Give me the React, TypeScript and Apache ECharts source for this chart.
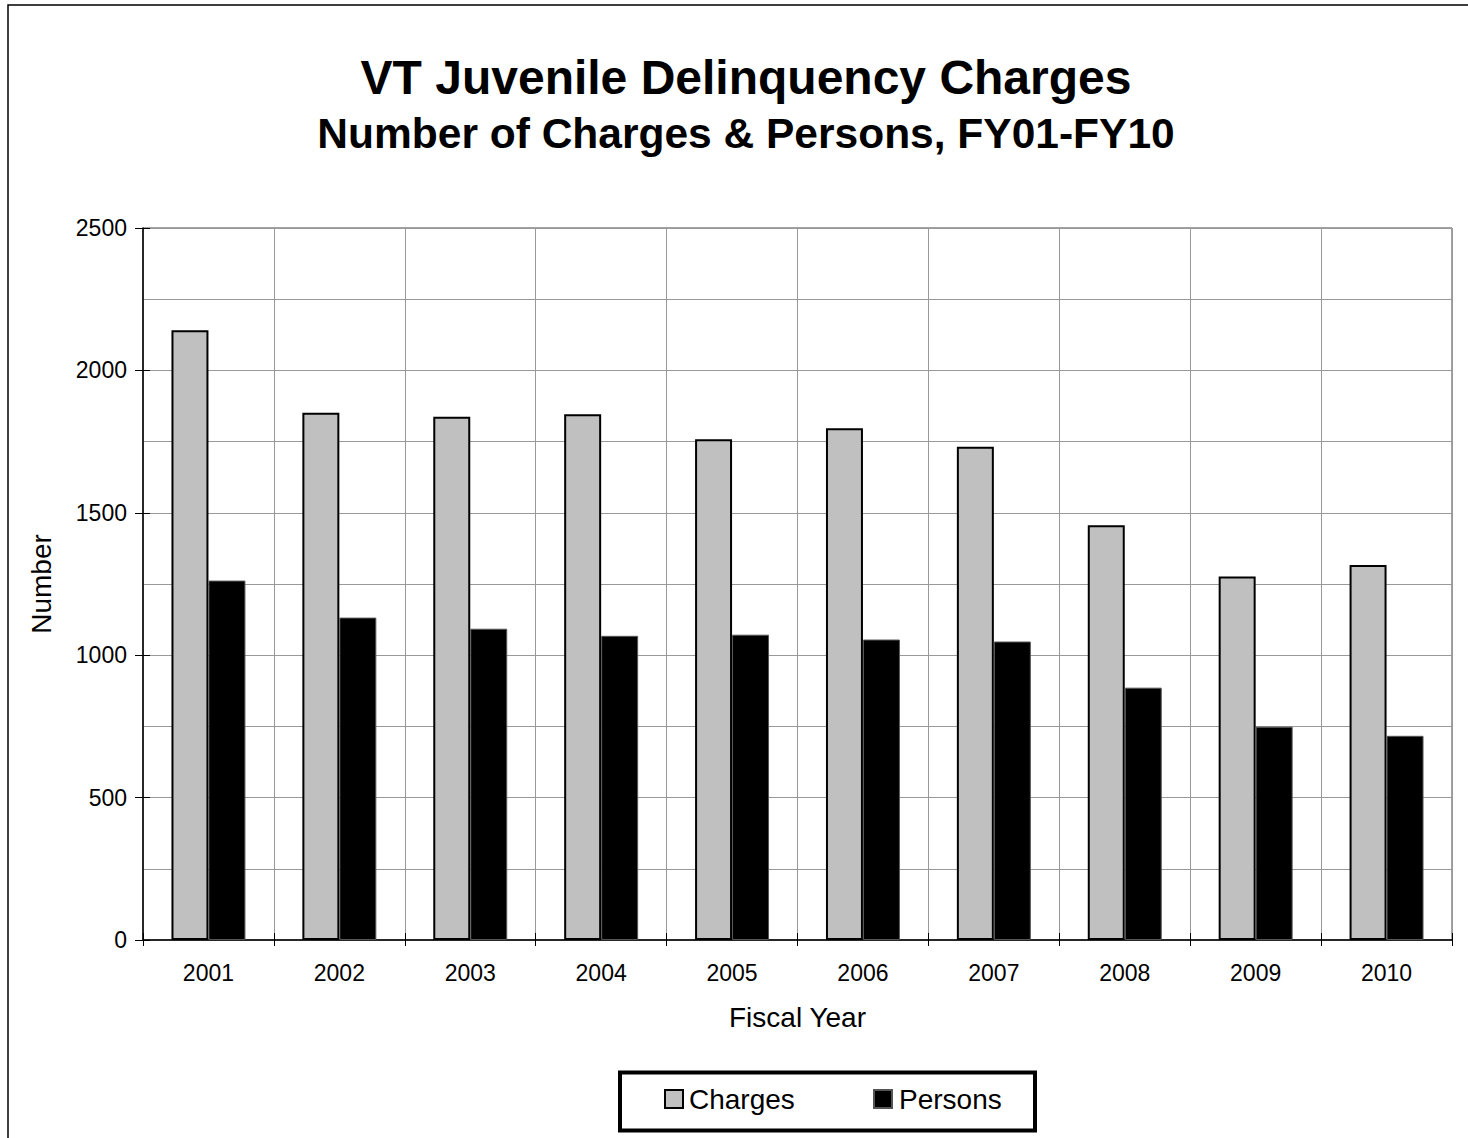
import React, { useEffect, useRef } from "react";
import * as echarts from "echarts";

const years = ["2001", "2002", "2003", "2004", "2005", "2006", "2007", "2008", "2009", "2010"];
const charges = [2141, 1851, 1837, 1846, 1758, 1797, 1732, 1456, 1276, 1317];
const persons = [1262, 1132, 1093, 1068, 1072, 1055, 1048, 886, 749, 717];
const yTicks = { min: 0, max: 2500, interval: 500 };

const FONT = 'Arial, "Liberation Sans", sans-serif';

export default function App() {
  const ref = useRef<HTMLDivElement>(null);
  useEffect(() => {
    document.body.style.margin = "0";
    const chart = echarts.init(ref.current!, undefined, { renderer: "svg" });
    chart.setOption({
      animation: false,
      backgroundColor: "#ffffff",
      textStyle: { fontFamily: FONT },
      graphic: [
        {
          type: "rect",
          shape: { x: 8, y: 5, width: 1600, height: 1300 },
          style: { fill: "none", stroke: "#000", lineWidth: 1.5 },
          silent: true,
        },
        {
          type: "text",
          x: 746,
          y: 77,
          style: {
            text: "VT Juvenile Delinquency Charges",
            font: `bold 48px ${FONT}`,
            fill: "#000",
            align: "center",
            verticalAlign: "middle",
          },
        },
        {
          type: "text",
          x: 746,
          y: 133,
          style: {
            text: "Number of Charges & Persons, FY01-FY10",
            font: `bold 42.5px ${FONT}`,
            fill: "#000",
            align: "center",
            verticalAlign: "middle",
          },
        },
        {
          type: "rect",
          shape: { x: 620, y: 1072.5, width: 415, height: 58 },
          style: { fill: "none", stroke: "#000", lineWidth: 4 },
          silent: true,
        },
      ],
      legend: [
        {
          data: ["Charges"],
          left: 659,
          top: 1080,
          itemWidth: 18,
          itemHeight: 18,
          icon: "rect",
          textStyle: { fontSize: 28, color: "#000", fontFamily: FONT, padding: [0, 0, 0, 1] },
        },
        {
          data: ["Persons"],
          left: 868,
          top: 1080,
          itemWidth: 18,
          itemHeight: 18,
          icon: "rect",
          textStyle: { fontSize: 28, color: "#000", fontFamily: FONT, padding: [0, 0, 0, 2] },
        },
      ],
      grid: {
        left: 143,
        top: 228,
        right: 16,
        bottom: 198,
        show: true,
        borderColor: "#444",
        borderWidth: 1,
        backgroundColor: "transparent",
      },
      xAxis: [
        {
          type: "category",
          data: years,
          name: "Fiscal Year",
          nameLocation: "middle",
          nameGap: 63,
          nameTextStyle: { fontSize: 28, color: "#000", fontFamily: FONT },
          axisLine: { lineStyle: { color: "#000", width: 1.5 } },
          axisTick: { show: true, length: 6, lineStyle: { color: "#000" } },
          axisLabel: { fontSize: 23, color: "#000", margin: 21, fontFamily: FONT },
          splitLine: { show: true, lineStyle: { color: "#999", width: 1 } },
        },
        {
          type: "category",
          data: years,
          position: "bottom",
          axisLine: { show: false },
          axisTick: { show: true, inside: true, length: 7, lineStyle: { color: "#000" } },
          axisLabel: { show: false },
          splitLine: { show: false },
        },
      ],
      yAxis: [
        {
          type: "value",
          min: yTicks.min,
          max: yTicks.max,
          interval: yTicks.interval,
          name: "Number",
          nameLocation: "middle",
          nameGap: 88,
          nameTextStyle: { fontSize: 28, color: "#000", fontFamily: FONT },
          axisLine: { show: true, lineStyle: { color: "#000", width: 1.5 } },
          axisTick: { show: true, length: 8, lineStyle: { color: "#000" } },
          axisLabel: {
            fontSize: 23,
            color: "#000",
            margin: 16,
            fontFamily: FONT,
            formatter: (v: number) => String(v),
          },
          splitLine: { show: true, lineStyle: { color: "#999", width: 1 } },
          minorTick: { show: false, splitNumber: 2 },
          minorSplitLine: { show: true, lineStyle: { color: "#999", width: 1 } },
        },
        {
          type: "value",
          min: yTicks.min,
          max: yTicks.max,
          interval: yTicks.interval,
          position: "left",
          axisLine: { show: false },
          axisTick: { show: true, inside: true, length: 7, lineStyle: { color: "#000" } },
          axisLabel: { show: false },
          splitLine: { show: false },
        },
      ],
      series: [
        {
          name: "Charges",
          type: "bar",
          data: charges,
          barGap: "0%",
          barCategoryGap: "43.5%",
          itemStyle: { color: "#c0c0c0", borderColor: "#000", borderWidth: 2 },
        },
        {
          name: "Persons",
          type: "bar",
          data: persons,
          barGap: "0%",
          barCategoryGap: "43.5%",
          itemStyle: { color: "#000", borderColor: "#555", borderWidth: 1 },
        },
      ],
    });
    return () => chart.dispose();
  }, []);
  return <div ref={ref} style={{ width: 1468, height: 1138 }} />;
}
